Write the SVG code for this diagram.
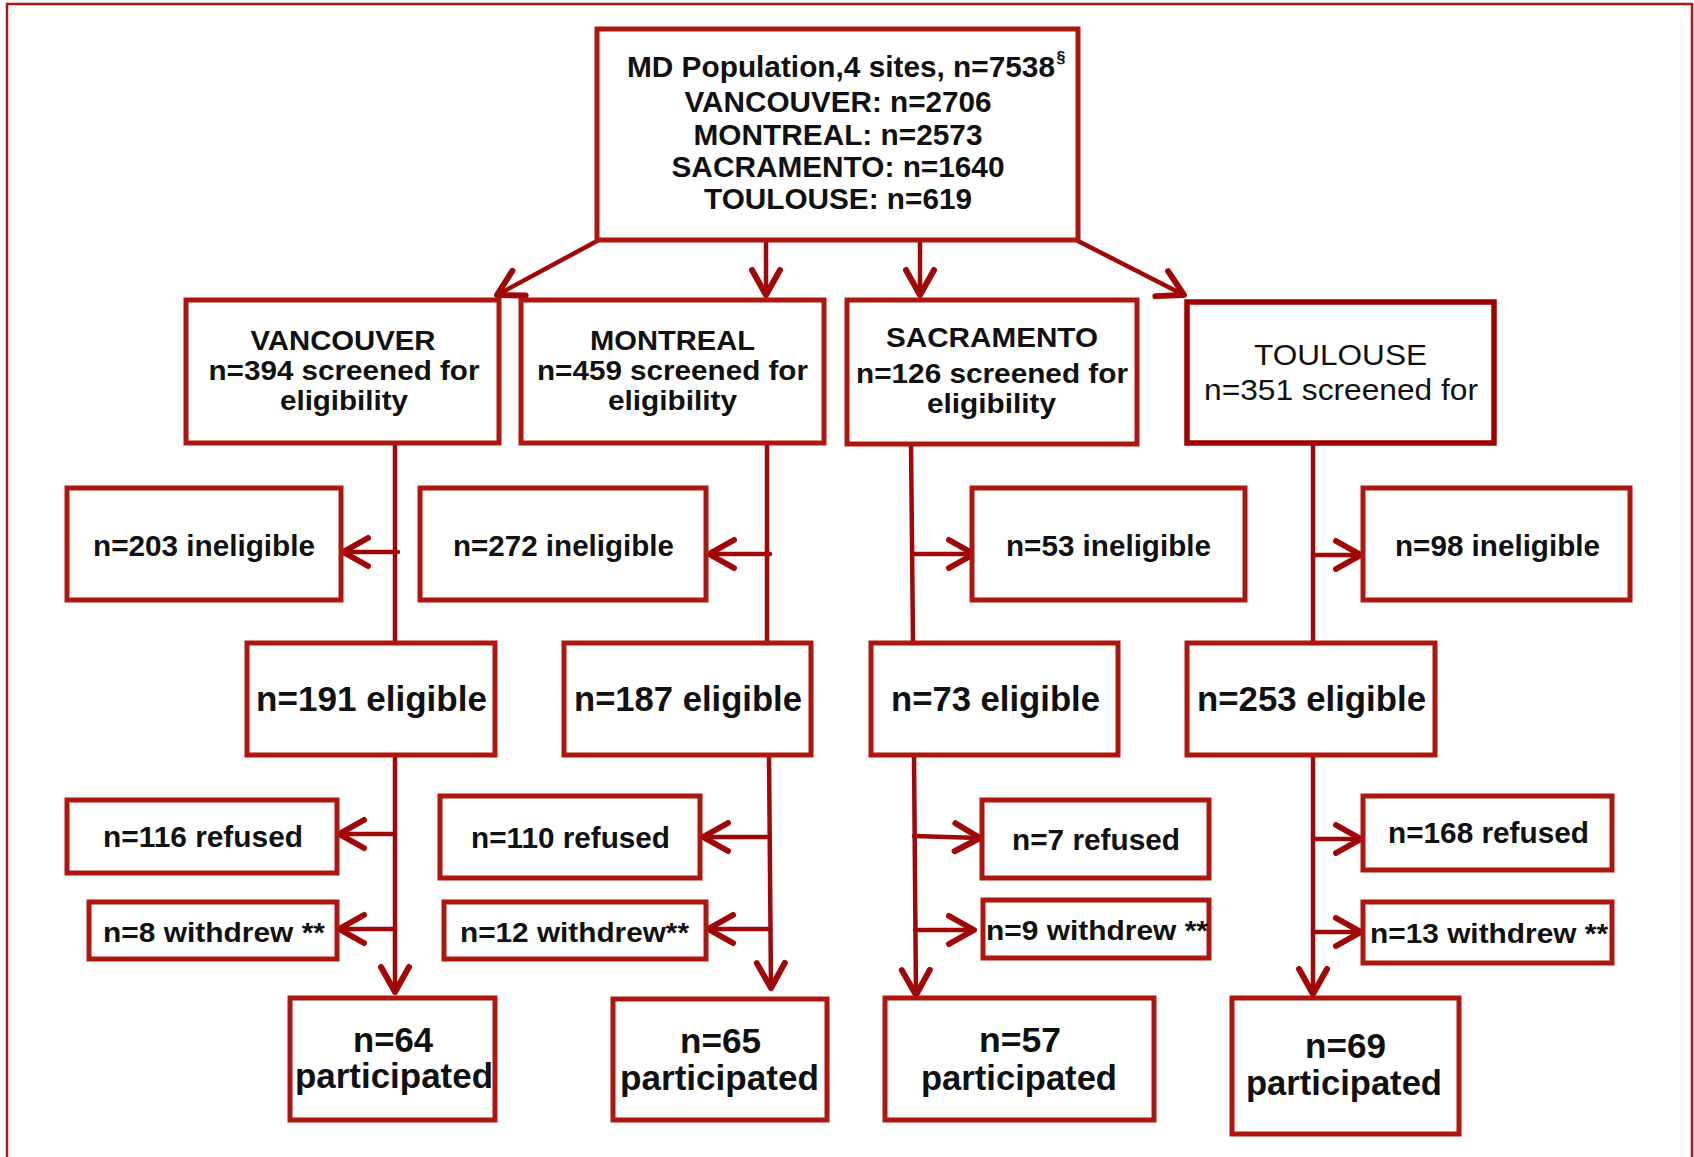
<svg xmlns="http://www.w3.org/2000/svg" width="1694" height="1157" viewBox="0 0 1694 1157">
<defs>
<style>
.box{fill:#fff;stroke:#AE1710;stroke-width:5}
.ln{fill:none;stroke:#A00808;stroke-width:4.5;stroke-linecap:round}
.t{font-family:"Liberation Sans",Arial,sans-serif;font-weight:bold;fill:#111;text-anchor:middle}
.r{font-family:"Liberation Sans",Arial,sans-serif;font-weight:normal;fill:#111;text-anchor:middle}
</style>
<marker id="ah" markerUnits="userSpaceOnUse" markerWidth="36" markerHeight="40" viewBox="-30 -20 36 40" refX="0" refY="0" orient="auto" overflow="visible">
<path d="M-25,-14 L0,0 L-25,14" fill="none" stroke="#A00808" stroke-width="6" stroke-linecap="round" stroke-linejoin="round"/>
</marker>
</defs>
<rect width="1694" height="1157" fill="#fff"/>
<path d="M7,1160 V4 H1692 V1160" fill="none" stroke="#B01515" stroke-width="2.5"/>

<g id="connectors">
<path class="ln" d="M597,241 L497,295" marker-end="url(#ah)"/>
<path class="ln" d="M766,241 V295" marker-end="url(#ah)"/>
<path class="ln" d="M920,241 V295" marker-end="url(#ah)"/>
<path class="ln" d="M1078,241 L1184,295" marker-end="url(#ah)"/>

<path class="ln" d="M395,444 V642"/>
<path class="ln" d="M767,444 V642"/>
<path class="ln" d="M911,444 L913,642"/>
<path class="ln" d="M1313,444 V642"/>

<path class="ln" d="M398,552 H343" marker-end="url(#ah)"/>
<path class="ln" d="M770,554 H709" marker-end="url(#ah)"/>
<path class="ln" d="M914,554 H974" marker-end="url(#ah)"/>
<path class="ln" d="M1313,555 H1361" marker-end="url(#ah)"/>

<path class="ln" d="M395,756 V992" marker-end="url(#ah)"/>
<path class="ln" d="M769,756 L771,988" marker-end="url(#ah)"/>
<path class="ln" d="M914,756 L916,995" marker-end="url(#ah)"/>
<path class="ln" d="M1313,756 V994" marker-end="url(#ah)"/>

<path class="ln" d="M395,834 H339" marker-end="url(#ah)"/>
<path class="ln" d="M769,837 H703" marker-end="url(#ah)"/>
<path class="ln" d="M914,836 L980,838" marker-end="url(#ah)"/>
<path class="ln" d="M1313,839 H1361" marker-end="url(#ah)"/>

<path class="ln" d="M395,929 H339" marker-end="url(#ah)"/>
<path class="ln" d="M770,929 H708" marker-end="url(#ah)"/>
<path class="ln" d="M915,930 H974" marker-end="url(#ah)"/>
<path class="ln" d="M1313,932 H1361" marker-end="url(#ah)"/>
</g>

<g id="top">
<rect class="box" x="597" y="29" width="481" height="211"/>
<text class="t" x="841" y="77" font-size="29" textLength="428" lengthAdjust="spacingAndGlyphs">MD Population,4 sites, n=7538</text>
<text class="t" x="1061" y="63" font-size="16">§</text>
<text class="t" x="838" y="112" font-size="29" textLength="307" lengthAdjust="spacingAndGlyphs">VANCOUVER: n=2706</text>
<text class="t" x="838" y="145" font-size="29" textLength="289" lengthAdjust="spacingAndGlyphs">MONTREAL: n=2573</text>
<text class="t" x="838" y="177" font-size="29" textLength="333" lengthAdjust="spacingAndGlyphs">SACRAMENTO: n=1640</text>
<text class="t" x="838" y="209" font-size="29" textLength="268" lengthAdjust="spacingAndGlyphs">TOULOUSE: n=619</text>
</g>

<g id="vancouver">
<rect class="box" x="186" y="300" width="313" height="143"/>
<text class="t" x="343" y="350" font-size="27" textLength="185" lengthAdjust="spacingAndGlyphs">VANCOUVER</text>
<text class="t" x="344" y="380" font-size="27" textLength="271" lengthAdjust="spacingAndGlyphs">n=394 screened for</text>
<text class="t" x="344" y="410" font-size="27" textLength="128" lengthAdjust="spacingAndGlyphs">eligibility</text>
</g>
<g id="montreal">
<rect class="box" x="521" y="300" width="303" height="143"/>
<text class="t" x="672.5" y="350" font-size="27" textLength="165" lengthAdjust="spacingAndGlyphs">MONTREAL</text>
<text class="t" x="672.5" y="380" font-size="27" textLength="271" lengthAdjust="spacingAndGlyphs">n=459 screened for</text>
<text class="t" x="672.5" y="410" font-size="27" textLength="129" lengthAdjust="spacingAndGlyphs">eligibility</text>
</g>
<g id="sacramento">
<rect class="box" x="847" y="300" width="290" height="144"/>
<text class="t" x="992" y="347" font-size="27" textLength="212" lengthAdjust="spacingAndGlyphs">SACRAMENTO</text>
<text class="t" x="992" y="383" font-size="27" textLength="272" lengthAdjust="spacingAndGlyphs">n=126 screened for</text>
<text class="t" x="991.5" y="413" font-size="27" textLength="129" lengthAdjust="spacingAndGlyphs">eligibility</text>
</g>
<g id="toulouse">
<rect class="box" x="1187" y="302" width="307" height="141" style="stroke:#A00000;stroke-width:5.5"/>
<text class="r" x="1340.5" y="365" font-size="30" textLength="173" lengthAdjust="spacingAndGlyphs">TOULOUSE</text>
<text class="r" x="1341" y="400" font-size="30" textLength="274" lengthAdjust="spacingAndGlyphs">n=351 screened for</text>
</g>

<g id="v-ineligible">
<rect class="box" x="67" y="488" width="274" height="112"/>
<text class="t" x="204" y="556" font-size="29" textLength="222" lengthAdjust="spacingAndGlyphs">n=203 ineligible</text>
</g>
<g id="m-ineligible">
<rect class="box" x="420" y="488" width="286" height="112"/>
<text class="t" x="563.5" y="556" font-size="29" textLength="221" lengthAdjust="spacingAndGlyphs">n=272 ineligible</text>
</g>
<g id="s-ineligible">
<rect class="box" x="972" y="488" width="273" height="112"/>
<text class="t" x="1108.5" y="556" font-size="29" textLength="205" lengthAdjust="spacingAndGlyphs">n=53 ineligible</text>
</g>
<g id="t-ineligible">
<rect class="box" x="1363" y="488" width="267" height="112"/>
<text class="t" x="1497.5" y="556" font-size="29" textLength="205" lengthAdjust="spacingAndGlyphs">n=98 ineligible</text>
</g>

<g id="v-eligible">
<rect class="box" x="247" y="643" width="248" height="112"/>
<text class="t" x="371.5" y="711" font-size="35" textLength="231" lengthAdjust="spacingAndGlyphs">n=191 eligible</text>
</g>
<g id="m-eligible">
<rect class="box" x="564" y="643" width="247" height="112"/>
<text class="t" x="688" y="711" font-size="35" textLength="228" lengthAdjust="spacingAndGlyphs">n=187 eligible</text>
</g>
<g id="s-eligible">
<rect class="box" x="871" y="643" width="247" height="112"/>
<text class="t" x="995.5" y="711" font-size="35" textLength="209" lengthAdjust="spacingAndGlyphs">n=73 eligible</text>
</g>
<g id="t-eligible">
<rect class="box" x="1187" y="643" width="248" height="112"/>
<text class="t" x="1311.5" y="711" font-size="35" textLength="229" lengthAdjust="spacingAndGlyphs">n=253 eligible</text>
</g>

<g id="v-refused">
<rect class="box" x="67" y="800" width="270" height="73"/>
<text class="t" x="203" y="847" font-size="29" textLength="200" lengthAdjust="spacingAndGlyphs">n=116 refused</text>
</g>
<g id="m-refused">
<rect class="box" x="440" y="796" width="260" height="82"/>
<text class="t" x="570.5" y="848" font-size="29" textLength="199" lengthAdjust="spacingAndGlyphs">n=110 refused</text>
</g>
<g id="s-refused">
<rect class="box" x="982" y="800" width="227" height="78"/>
<text class="t" x="1096" y="850" font-size="29" textLength="168" lengthAdjust="spacingAndGlyphs">n=7 refused</text>
</g>
<g id="t-refused">
<rect class="box" x="1363" y="796" width="249" height="74"/>
<text class="t" x="1488.5" y="843" font-size="29" textLength="201" lengthAdjust="spacingAndGlyphs">n=168 refused</text>
</g>

<g id="v-withdrew">
<rect class="box" x="89" y="902" width="248" height="57"/>
<text class="t" x="214" y="942" font-size="28" textLength="222" lengthAdjust="spacingAndGlyphs">n=8 withdrew **</text>
</g>
<g id="m-withdrew">
<rect class="box" x="444" y="902" width="262" height="57"/>
<text class="t" x="574.5" y="942" font-size="28" textLength="229" lengthAdjust="spacingAndGlyphs">n=12 withdrew**</text>
</g>
<g id="s-withdrew">
<rect class="box" x="983" y="900" width="226" height="58"/>
<text class="t" x="1097" y="940" font-size="28" textLength="222" lengthAdjust="spacingAndGlyphs">n=9 withdrew **</text>
</g>
<g id="t-withdrew">
<rect class="box" x="1363" y="902" width="249" height="61"/>
<text class="t" x="1489" y="943" font-size="28" textLength="238" lengthAdjust="spacingAndGlyphs">n=13 withdrew **</text>
</g>

<g id="v-participated">
<rect class="box" x="290" y="998" width="205" height="122"/>
<text class="t" x="393" y="1052" font-size="35" textLength="80" lengthAdjust="spacingAndGlyphs">n=64</text>
<text class="t" x="394" y="1088" font-size="35" textLength="198" lengthAdjust="spacingAndGlyphs">participated</text>
</g>
<g id="m-participated">
<rect class="box" x="613" y="999" width="214" height="121"/>
<text class="t" x="720.5" y="1053" font-size="35" textLength="81" lengthAdjust="spacingAndGlyphs">n=65</text>
<text class="t" x="719.5" y="1090" font-size="35" textLength="199" lengthAdjust="spacingAndGlyphs">participated</text>
</g>
<g id="s-participated">
<rect class="box" x="885" y="998" width="269" height="122"/>
<text class="t" x="1020" y="1052" font-size="35" textLength="82" lengthAdjust="spacingAndGlyphs">n=57</text>
<text class="t" x="1019" y="1090" font-size="35" textLength="196" lengthAdjust="spacingAndGlyphs">participated</text>
</g>
<g id="t-participated">
<rect class="box" x="1232" y="998" width="227" height="136"/>
<text class="t" x="1345.5" y="1058" font-size="35" textLength="81" lengthAdjust="spacingAndGlyphs">n=69</text>
<text class="t" x="1344" y="1095" font-size="35" textLength="196" lengthAdjust="spacingAndGlyphs">participated</text>
</g>
</svg>
